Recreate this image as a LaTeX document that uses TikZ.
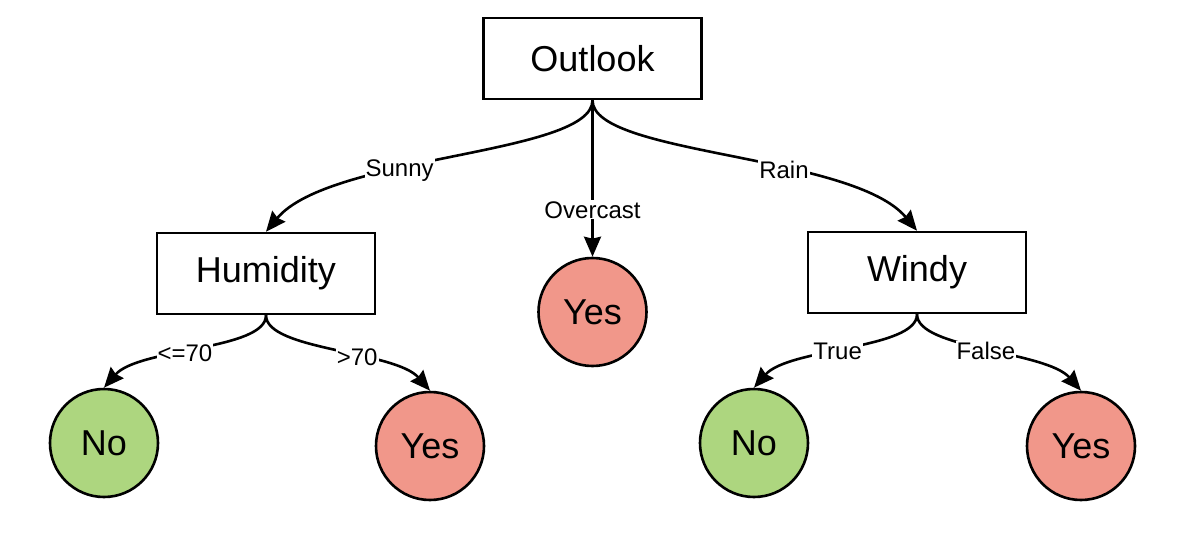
\documentclass[tikz,border=0pt]{standalone}
\usepackage{fontspec}
\setmainfont{Liberation Sans}
\usetikzlibrary{arrows.meta}
\definecolor{nogreen}{HTML}{ADD67F}
\definecolor{yesred}{HTML}{F1978A}
\begin{document}
\begin{tikzpicture}[x=1pt,y=-1pt,
  box/.style={draw,line width=2.6pt,minimum width=218pt,minimum height=81pt,inner sep=0pt,font=\fontsize{36}{40}\selectfont},
  leaf/.style={circle,draw,line width=2.6pt,minimum size=108pt,inner sep=0pt,font=\fontsize{36}{40}\selectfont},
  noleaf/.style={leaf,fill=nogreen},
  yesleaf/.style={leaf,fill=yesred},
  arr/.style={line width=2.6pt,-{Stealth[length=20pt,width=17pt,inset=2pt]}},
  lbl/.style={fill=white,inner sep=1pt,font=\fontsize{24}{26}\selectfont}]
\useasboundingbox (0,0) rectangle (1186,540);
\node[box] (outlook) at (592.5,58.5) {Outlook};
\node[box] (hum) at (266,273.5) {Humidity};
\node[box] (windy) at (917,272.5) {Windy};
\node[yesleaf] (yesmid) at (592.5,312) {Yes};
\node[noleaf] (no1) at (104,443) {No};
\node[yesleaf] (yes1) at (430,446) {Yes};
\node[noleaf] (no2) at (754,443) {No};
\node[yesleaf] (yes2) at (1081,446) {Yes};
\draw[arr] (outlook.south) .. controls +(0,55) and +(64,-77) .. (hum.north) node[lbl,pos=0.62] {Sunny};
\draw[arr] (outlook.south) .. controls +(0,55) and +(-64,-77) .. (windy.north) node[lbl,pos=0.62] {Rain};
\draw[arr] (outlook.south) -- (yesmid.north) node[lbl,pos=0.7] {Overcast};
\draw[arr] (hum.south) .. controls +(0,35) and +(35,-40) .. (no1.north) node[lbl,pos=0.56] {<=70};
\draw[arr] (hum.south) .. controls +(0,35) and +(-35,-40) .. (yes1.north) node[lbl,pos=0.6] {>70};
\draw[arr] (windy.south) .. controls +(0,35) and +(35,-40) .. (no2.north) node[lbl,pos=0.55] {True};
\draw[arr] (windy.south) .. controls +(0,35) and +(-35,-40) .. (yes2.north) node[lbl,pos=0.5] {False};
\end{tikzpicture}
\end{document}
